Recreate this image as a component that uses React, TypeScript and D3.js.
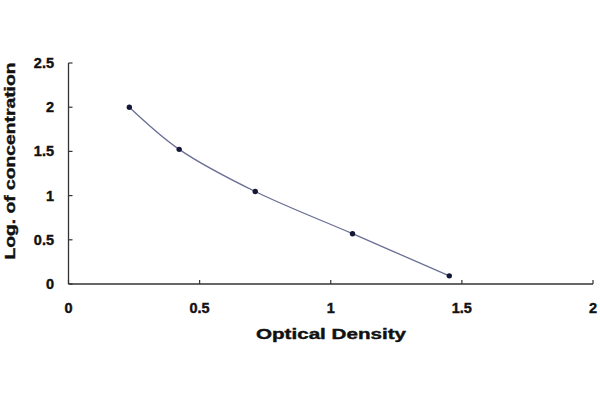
import React from "react";
import * as d3 from "d3";

const odValues = [0.232, 0.422, 0.712, 1.083, 1.452];
const logConc = [2.0, 1.523, 1.046, 0.569, 0.092];
const xTicks = [0, 0.5, 1, 1.5, 2];
const yTicks = [0, 0.5, 1, 1.5, 2, 2.5];
const xTitle = "Optical Density";
const yTitle = "Log. of concentration";

export default function App() {
  const W = 600, H = 400;
  const x = d3.scaleLinear().domain([0, 2]).range([68.5, 593]);
  const y = d3.scaleLinear().domain([0, 2.5]).range([284, 63]);
  const pts = odValues.map((v, i) => [x(v), y(logConc[i])] as [number, number]);
  const line = d3.line().curve(d3.curveCatmullRom.alpha(0.5))(pts) || "";
  const font = "'Liberation Sans', Arial, sans-serif";
  const textStyle = { stroke: "#111", strokeWidth: 0.4 } as React.CSSProperties;
  return (
    <svg width={W} height={H} style={{ position: "absolute", left: 0, top: 0, background: "#fff" }}>
      <rect width={W} height={H} fill="#fff" />
      <line x1={x(0)} x2={x(0)} y1={y(2.5)} y2={y(0)} stroke="#333" strokeWidth={1.3} />
      <line x1={x(0)} x2={x(2)} y1={y(0)} y2={y(0)} stroke="#333" strokeWidth={1.3} />
      {yTicks.map((t) => (
        <g key={"y" + t}>
          <line x1={x(0)} x2={x(0) + 4} y1={y(t)} y2={y(t)} stroke="#333" strokeWidth={1.2} />
          <text x={54} y={y(t) + 5} textAnchor="end" fontFamily={font} fontWeight="bold" fontSize={14.5} fill="#111" style={textStyle}>
            {t}
          </text>
        </g>
      ))}
      {xTicks.map((t) => (
        <g key={"x" + t}>
          <line x1={x(t)} x2={x(t)} y1={y(0)} y2={y(0) - 4} stroke="#333" strokeWidth={1.2} />
          <text x={x(t)} y={313} textAnchor="middle" fontFamily={font} fontWeight="bold" fontSize={14.5} fill="#111" style={textStyle}>
            {t}
          </text>
        </g>
      ))}
      <text x={331} y={339} textAnchor="middle" fontFamily={font} fontWeight="bold" fontSize={14.5} fill="#111" style={textStyle}
        textLength={150} lengthAdjust="spacingAndGlyphs">
        {xTitle}
      </text>
      <text transform="translate(15,161) rotate(-90)" textAnchor="middle" fontFamily={font} fontWeight="bold" fontSize={14.5} fill="#111" style={textStyle}
        textLength={197} lengthAdjust="spacingAndGlyphs">
        {yTitle}
      </text>
      <path d={line} fill="none" stroke="#6a6f94" strokeWidth={1.3} />
      {pts.map((p, i) => (
        <circle key={i} cx={p[0]} cy={p[1]} r={2.7} fill="#141838" />
      ))}
    </svg>
  );
}
